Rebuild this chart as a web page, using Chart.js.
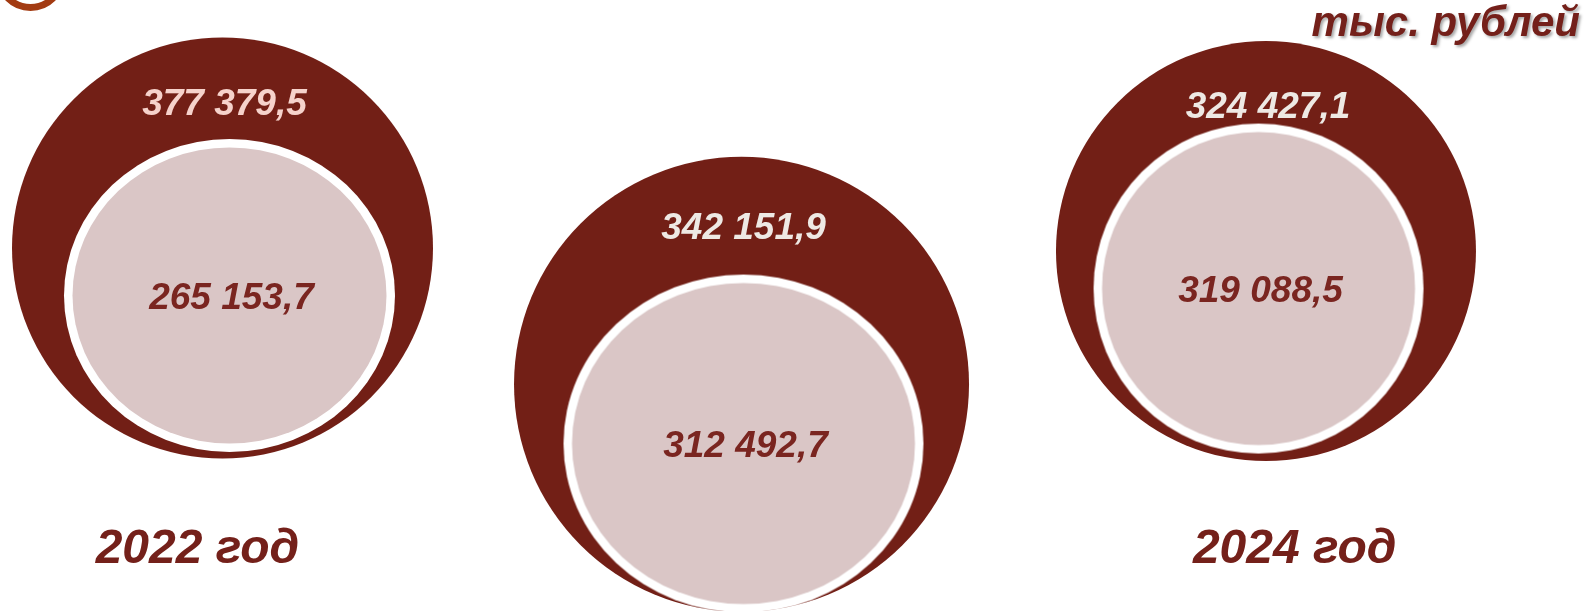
<!DOCTYPE html>
<html><head><meta charset="utf-8">
<script src="https://cdn.jsdelivr.net/npm/chart.js@4/dist/chart.umd.min.js"></script>
<style>html,body{margin:0;padding:0;background:#fff;overflow:hidden}#wrap{width:1585px;height:611px;position:relative}</style>
</head><body><div id="wrap"><canvas id="c"></canvas></div>
<script>
// ---- data ----
const years = ['2022 год', '2023 год', '2024 год'];
const outerValues = [377379.5, 342151.9, 324427.1];
const innerValues = [265153.7, 312492.7, 319088.5];
const unitLabel = 'тыс. рублей';
const yearLabelShown = [true, false, true];

// ---- layout / style (not data) ----
const outerLayout = [{dx: 0, y: 0.406, r: 210.5}, {dx: -0.0057, y: 0.629, r: 227.5}, {dx: -0.001, y: 0.411, r: 210}];
const innerLayout = [
  {dx: 0.0134, y: 0.4836, rx: 157, ry: 148},
  {dx: -0.002, y: 0.7259, rx: 171.5, ry: 160.5},
  {dx: -0.0153, y: 0.4722, rx: 156.5, ry: 156.5}
];
const innerBorderWidth = 8.5;
const yearLabelLayout = [{x: -0.048, y: 0.921}, {x: 1, y: 0.921}, {x: 2.054, y: 0.921}];
const outerColor = '#721f16';
const innerColor = '#dac6c6';
const innerBorder = '#ffffff';
const outerTextColors = ['#f6d2cb', '#eee9e4', '#eee9e4'];
const innerTextColor = '#7a2520';
const titleColor = '#74201a';
const FONT = '"Liberation Sans", Arial, sans-serif';

function fmt(v) {
  const [a, b] = v.toFixed(1).split('.');
  return a.replace(/\B(?=(\d{3})+(?!\d))/g, ' ') + ',' + b;
}

// elliptical point style for the inner marks (fill + white rim)
function ellipseStyle(rx, ry, bw) {
  const c = document.createElement('canvas');
  const w = Math.ceil(2 * (rx + bw)) + 2, h = Math.ceil(2 * (ry + bw)) + 2;
  c.width = w; c.height = h;
  const g = c.getContext('2d');
  g.fillStyle = innerBorder;
  g.beginPath(); g.ellipse(w / 2, h / 2, rx + bw, ry + bw, 0, 0, Math.PI * 2); g.fill();
  g.fillStyle = innerColor;
  g.beginPath(); g.ellipse(w / 2, h / 2, rx, ry, 0, 0, Math.PI * 2); g.fill();
  return c;
}
const innerStyles = innerLayout.map(l => ellipseStyle(l.rx, l.ry, innerBorderWidth));

const labelsPlugin = {
  id: 'labels',
  beforeDraw(chart) {
    const ctx = chart.ctx;
    ctx.save();
    ctx.fillStyle = '#fff';
    ctx.fillRect(0, 0, chart.width, chart.height);
    ctx.restore();
  },
  afterDatasetsDraw(chart) {
    const ctx = chart.ctx;
    const inner = chart.getDatasetMeta(0).data;
    const outer = chart.getDatasetMeta(1).data;
    ctx.save();
    ctx.textAlign = 'center';
    ctx.textBaseline = 'alphabetic';
    const size = 37;
    ctx.font = 'bold italic ' + size + 'px ' + FONT;
    outer.forEach((el, i) => {
      const r = outerLayout[i].r;
      const cy = el.y - 0.695 * r;
      ctx.fillStyle = outerTextColors[i];
      ctx.fillText(fmt(outerValues[i]), el.x + 2, cy + size * 0.358);
    });
    inner.forEach((el, i) => {
      ctx.fillStyle = innerTextColor;
      ctx.fillText(fmt(innerValues[i]), el.x + 2, el.y + size * 0.358);
    });
    // year labels
    const xs = chart.scales.x, ys = chart.scales.y;
    const ysize = 48;
    ctx.font = 'bold italic ' + ysize + 'px ' + FONT;
    ctx.fillStyle = titleColor;
    years.forEach((t, i) => {
      if (!yearLabelShown[i]) return;
      ctx.fillText(t, xs.getPixelForValue(yearLabelLayout[i].x), ys.getPixelForValue(yearLabelLayout[i].y));
    });
    // unit label
    ctx.font = 'bold italic 42px ' + FONT;
    ctx.textAlign = 'right';
    ctx.shadowColor = 'rgba(0,0,0,0.35)';
    ctx.shadowOffsetX = 2; ctx.shadowOffsetY = 2; ctx.shadowBlur = 3;
    ctx.fillText(unitLabel, chart.width - 5, 36);
    ctx.shadowColor = 'transparent';
    // partial logo ring top-left
    ctx.beginPath();
    ctx.arc(30.5, -24, 31.5, 0, Math.PI * 2);
    ctx.lineWidth = 7;
    ctx.strokeStyle = '#a33b12';
    ctx.stroke();
    ctx.restore();
  }
};

new Chart(document.getElementById('c'), {
  type: 'bubble',
  data: {
    datasets: [
      {
        label: 'inner',
        data: innerValues.map((v, i) => ({x: i + innerLayout[i].dx, y: innerLayout[i].y, v})),
        backgroundColor: innerColor,
        borderColor: innerBorder,
        borderWidth: 0,
        radius: 1,
        pointStyle: c => innerStyles[c.dataIndex],
        clip: false
      },
      {
        label: 'outer',
        data: outerValues.map((v, i) => ({x: i + outerLayout[i].dx, y: outerLayout[i].y, v})),
        backgroundColor: outerColor,
        borderWidth: 0,
        radius: c => outerLayout[c.dataIndex].r,
        clip: false
      }
    ]
  },
  options: {
    responsive: true,
    maintainAspectRatio: false,
    devicePixelRatio: 1,
    animation: false,
    events: [],
    layout: {padding: 0, autoPadding: false},
    plugins: {legend: {display: false}, tooltip: {enabled: false}},
    scales: {
      x: {type: 'linear', display: false, min: -222.5 / 522, max: 2 + (1585 - 1266.5) / 522},
      y: {type: 'linear', display: false, min: 0, max: 1, reverse: true}
    }
  },
  plugins: [labelsPlugin]
});
</script></body></html>
